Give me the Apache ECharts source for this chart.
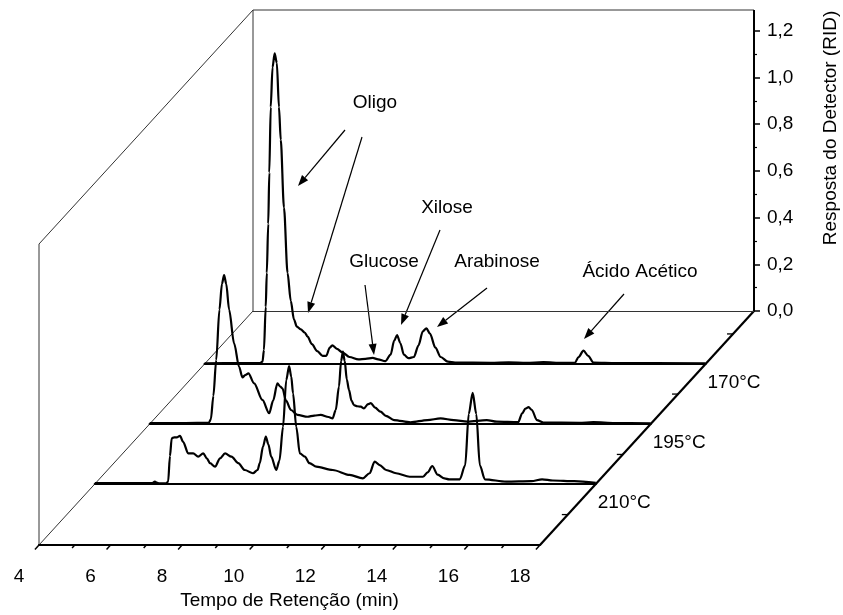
<!DOCTYPE html>
<html><head><meta charset="utf-8">
<script src="https://cdn.jsdelivr.net/npm/echarts@6/dist/echarts.min.js"></script>
<style>html,body{margin:0;padding:0;background:#fff}#c{width:843px;height:615px}</style>
</head><body><div id="c"></div>
<script>
// ---- data ----
const xTickLabels = ['4','6','8','10','12','14','16','18'];
const xTickValues = [4,5,6,7,8,9,10,11,12,13,14,15,16,17,18];
const traceNames = ['170°C', '195°C', '210°C'];

const t170 = [4.0,5.0,5.55,5.62,5.66,5.71,5.74,5.78,5.81,5.85,5.9,5.96,6.02,6.08,6.13,6.22,6.32,6.41,6.5,6.58,6.69,6.8,6.88,7.0,7.15,7.3,7.4,7.5,7.57,7.7,7.85,8.05,8.3,8.5,8.7,8.85,9.05,9.2,9.3,9.38,9.47,9.57,9.7,9.85,9.98,10.1,10.2,10.3,10.45,10.6,10.8,11.0,12.0,12.5,13.0,13.47,14.0,14.35,14.45,14.59,14.72,14.87,15.5,18.0];
const v170 = [0.003,0.004,0.004,0.01,0.06,0.245,0.39,0.6,0.82,1.1,1.27,1.33,1.29,1.1,0.96,0.67,0.39,0.27,0.19,0.16,0.148,0.135,0.117,0.085,0.055,0.035,0.035,0.07,0.08,0.065,0.05,0.03,0.02,0.022,0.026,0.02,0.012,0.04,0.1,0.124,0.09,0.04,0.025,0.03,0.08,0.14,0.153,0.13,0.07,0.03,0.01,0.006,0.005,0.007,0.005,0.008,0.005,0.005,0.03,0.057,0.035,0.006,0.004,0.003];

const t195 = [4.0,5.0,5.65,5.71,5.78,5.86,5.95,6.02,6.08,6.14,6.22,6.36,6.5,6.59,6.68,6.76,6.92,7.15,7.34,7.45,7.57,7.65,7.71,7.81,7.95,8.13,8.41,8.6,8.78,9.0,9.11,9.2,9.29,9.35,9.40,9.45,9.51,9.57,9.64,9.71,9.8,9.9,9.99,10.1,10.18,10.3,10.45,10.6,10.83,11.29,11.76,12.13,12.5,12.88,13.42,13.7,14.3,14.41,14.5,14.59,14.68,14.82,15.0,16.0,16.4,17.0,18.0];
const v195 = [0.004,0.004,0.005,0.02,0.12,0.274,0.49,0.6,0.638,0.6,0.49,0.345,0.245,0.2,0.21,0.217,0.174,0.103,0.046,0.1,0.174,0.16,0.153,0.1,0.06,0.039,0.031,0.036,0.039,0.03,0.024,0.06,0.16,0.27,0.31,0.27,0.19,0.146,0.1,0.081,0.076,0.074,0.067,0.085,0.089,0.07,0.053,0.035,0.017,0.007,0.017,0.024,0.017,0.01,0.017,0.01,0.008,0.046,0.066,0.072,0.06,0.017,0.006,0.005,0.008,0.004,0.003];

const t210 = [4.0,5.6,5.68,5.73,5.8,6.0,6.05,6.1,6.15,6.22,6.29,6.38,6.47,6.61,6.75,6.89,7.03,7.13,7.22,7.36,7.5,7.64,7.82,8.01,8.19,8.42,8.55,8.61,8.7,8.78,8.85,8.93,9.07,9.16,9.26,9.35,9.43,9.49,9.54,9.63,9.73,9.87,10.0,10.19,10.65,11.12,11.49,11.68,11.82,11.96,12.14,12.42,12.8,13.17,13.3,13.43,13.58,13.77,13.9,14.2,14.35,14.45,14.56,14.66,14.76,14.9,15.5,16.2,16.5,16.8,17.4,18.0];
const v210 = [0.004,0.004,0.01,0.006,0.003,0.003,0.01,0.12,0.196,0.2,0.2,0.206,0.18,0.131,0.131,0.117,0.131,0.11,0.089,0.074,0.11,0.131,0.117,0.089,0.06,0.046,0.06,0.089,0.16,0.203,0.17,0.117,0.06,0.1,0.245,0.445,0.505,0.46,0.388,0.245,0.131,0.117,0.089,0.074,0.06,0.039,0.024,0.046,0.096,0.081,0.06,0.046,0.031,0.031,0.05,0.077,0.04,0.024,0.02,0.02,0.08,0.3,0.39,0.3,0.08,0.02,0.01,0.012,0.02,0.015,0.012,0.005];

const annotations = ['Oligo', 'Glucose', 'Xilose', 'Arabinose', 'Ácido Acético'];

// ---- layout ----
const FONT = '"Liberation Sans", Arial, sans-serif';
const FS = 19;
const X0 = 39, Y0 = 545, W = 501, DX = 214, DY = 234, PX = 233.5, WALL_H = 301;
const depthBack = [0.7735, 0.5171, 0.2607];
const depthTicks = [0.13, 0.387, 0.645, 0.902];
const TRACE_MAX = 1.45;
const DL = Math.hypot(DX, DY), UX = -DX / DL, UY = DY / DL;

const traces = [[t170, v170], [t195, v195], [t210, v210]];
const grids = [], xAxes = [], yAxes = [], series = [];

traces.forEach((tr, i) => {
  const b = depthBack[i];
  const base = Y0 - DY * b;
  grids.push({left: X0 + DX * b, top: base - TRACE_MAX * PX, width: W, height: TRACE_MAX * PX, outerBoundsMode: 'none', containLabel: false});
  xAxes.push({gridIndex: i, type: 'value', min: 4, max: 18, axisLine: {show: true, lineStyle: {color: '#000', width: 2.2}}, axisTick: {show: false}, axisLabel: {show: false}, splitLine: {show: false}});
  yAxes.push({gridIndex: i, type: 'value', min: 0, max: TRACE_MAX, show: false});
  series.push({type: 'line', name: traceNames[i], xAxisIndex: i, yAxisIndex: i, data: tr[0].map((t, j) => [t, tr[1][j]]),
    smooth: 0.3, smoothMonotone: 'x', symbol: 'none', clip: false, silent: true,
    lineStyle: {color: '#000', width: 2.2}, z: 10 + i});
});

const backBase = Y0 - DY;
grids.push({left: X0 + DX, top: backBase - 1.2 * PX, width: W, height: 1.2 * PX, outerBoundsMode: 'none', containLabel: false});
xAxes.push({gridIndex: 3, type: 'value', min: 4, max: 18, axisLine: {show: true, lineStyle: {color: '#333', width: 1}}, axisTick: {show: false}, axisLabel: {show: false}, splitLine: {show: false}});
yAxes.push({gridIndex: 3, type: 'value', position: 'right', min: 0, max: 1.2, interval: 0.2,
  axisLine: {show: true, lineStyle: {color: '#000', width: 2}},
  axisTick: {show: true, length: 6, lineStyle: {color: '#000', width: 1.5}},
  minorTick: {show: true, splitNumber: 2, length: 3, lineStyle: {color: '#000', width: 1.2}},
  axisLabel: {color: '#000', fontSize: FS, fontFamily: FONT, margin: 13, formatter: v => v.toFixed(1).replace('.', ',')},
  splitLine: {show: false}});

grids.push({left: X0, top: Y0 - 100, width: W, height: 100, outerBoundsMode: 'none', containLabel: false});
xAxes.push({gridIndex: 4, type: 'value', min: 4, max: 18, interval: 2,
  axisLine: {show: true, lineStyle: {color: '#000', width: 2.2}},
  axisTick: {show: false}, axisLabel: {show: false}, splitLine: {show: false},
  name: 'Tempo de Retenção (min)', nameLocation: 'middle', nameGap: 46,
  nameTextStyle: {color: '#000', fontSize: FS, fontFamily: FONT}});
yAxes.push({gridIndex: 4, type: 'value', min: 0, max: 1, show: false});
series.push({type: 'custom', xAxisIndex: 4, yAxisIndex: 4, silent: true, clip: false,
  data: xTickValues.map(v => [v, 0]),
  renderItem: (params, api) => {
    const p = api.coord([api.value(0), 0]);
    const major = (api.value(0) - 4) % 2 === 0;
    const len = major ? 6 : 4;
    return {type: 'line', shape: {x1: p[0], y1: p[1], x2: p[0] + UX * len, y2: p[1] + UY * len}, style: {stroke: '#000', lineWidth: 1.5}};
  }});

grids.push({left: X0 - 20, top: Y0 + 22 - 100, width: W, height: 100, outerBoundsMode: 'none', containLabel: false});
xAxes.push({gridIndex: 5, type: 'value', min: 4, max: 18, interval: 2,
  axisLine: {show: false}, axisTick: {show: false}, splitLine: {show: false},
  axisLabel: {color: '#000', fontSize: FS, fontFamily: FONT, margin: 0, formatter: v => xTickLabels[Math.round((v - 4) / 2)] || ''}});
yAxes.push({gridIndex: 5, type: 'value', show: false});

const thin = {stroke: '#333', lineWidth: 1, fill: null};
const thick = {stroke: '#000', lineWidth: 2.2, fill: null};
const topY = Y0 - DY - WALL_H;
const g = [];
g.push({type: 'polyline', shape: {points: [[X0, Y0], [X0, Y0 - WALL_H], [X0 + DX, topY], [X0 + DX + W, topY]]}, style: thin});
g.push({type: 'polyline', shape: {points: [[X0 + DX, topY], [X0 + DX, Y0 - DY]]}, style: thin});
g.push({type: 'polyline', shape: {points: [[X0, Y0], [X0 + DX, Y0 - DY]]}, style: thin});
g.push({type: 'polyline', shape: {points: [[X0 + DX + W, Y0 - DY - 1.2 * PX], [X0 + DX + W, topY]]}, style: {stroke: '#000', lineWidth: 2, fill: null}});
g.push({type: 'polyline', shape: {points: [[X0 + W, Y0], [X0 + W + DX, Y0 - DY]]}, style: thick});
depthTicks.forEach(b => {
  const px = X0 + W + DX * b, py = Y0 - DY * b;
  g.push({type: 'polyline', shape: {points: [[px, py], [px - 6, py]]}, style: {stroke: '#000', lineWidth: 1.3}});
});
depthBack.forEach((b, i) => {
  g.push({type: 'text', x: X0 + W + DX * b + 2, y: Y0 - DY * b + 19,
    style: {text: traceNames[i], fill: '#000', font: FS + 'px ' + FONT, align: 'left', verticalAlign: 'middle'}});
});
g.push({type: 'text', x: 831, y: 128, rotation: Math.PI / 2,
  style: {text: 'Resposta do Detector (RID)', fill: '#000', font: FS + 'px ' + FONT, align: 'center', verticalAlign: 'middle'}});

const labelPos = [[375, 103], [384, 262], [447, 208], [497, 262], [640, 272]];
labelPos.forEach((p, i) => {
  g.push({type: 'text', x: p[0], y: p[1], style: {text: annotations[i], fill: '#000', font: FS + 'px ' + FONT, align: 'center', verticalAlign: 'middle'}});
});
const arrows = [[[345, 130], [298, 186]], [[362, 137], [308, 313]], [[365, 285], [374, 355]], [[440, 230], [401, 325]], [[487, 288], [437, 327]], [[624, 294], [584, 339]]];
arrows.forEach(a => {
  const [s, e] = a;
  const ang = Math.atan2(e[1] - s[1], e[0] - s[0]);
  const L = 11, Hw = 4;
  const bx = e[0] - L * Math.cos(ang), by = e[1] - L * Math.sin(ang);
  g.push({type: 'polyline', shape: {points: [s, [bx, by]]}, style: {stroke: '#000', lineWidth: 1.2}});
  g.push({type: 'polygon', shape: {points: [e, [bx + Hw * Math.sin(ang), by - Hw * Math.cos(ang)], [bx - Hw * Math.sin(ang), by + Hw * Math.cos(ang)]]}, style: {fill: '#000'}});
});

const chart = echarts.init(document.getElementById('c'), null, {renderer: 'canvas'});
chart.setOption({
  backgroundColor: '#fff', animation: false,
  textStyle: {fontFamily: FONT},
  grid: grids, xAxis: xAxes, yAxis: yAxes, series: series, graphic: g
});
</script></body></html>
